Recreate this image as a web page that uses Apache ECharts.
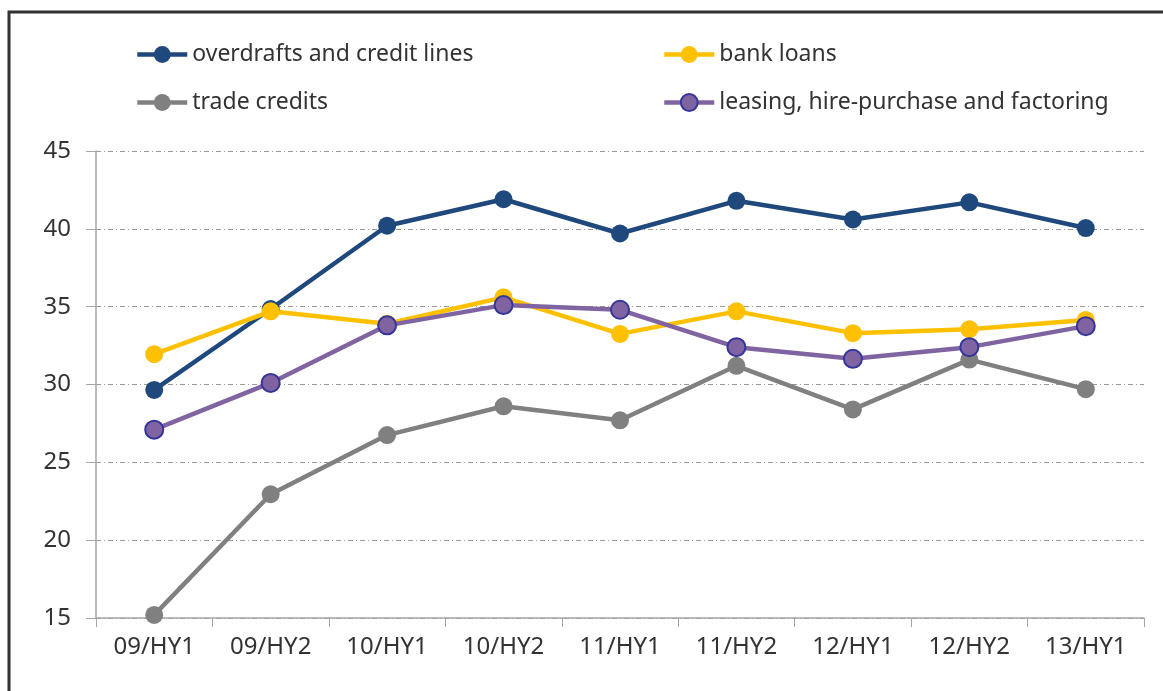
<!DOCTYPE html>
<html>
<head>
<meta charset="utf-8">
<script src="https://cdn.jsdelivr.net/npm/echarts@6/dist/echarts.min.js"></script>
<style>
  html, body { margin: 0; padding: 0; background: #fff; }
  #chart { width: 1163px; height: 691px; }
</style>
</head>
<body>
<div id="chart"></div>
<script>
  var categories = ['09/HY1', '09/HY2', '10/HY1', '10/HY2', '11/HY1', '11/HY2', '12/HY1', '12/HY2', '13/HY1'];
  var overdrafts = [29.65, 34.85, 40.2, 41.9, 39.7, 41.8, 40.6, 41.7, 40.05];
  var bankLoans = [31.95, 34.7, 33.9, 35.6, 33.25, 34.7, 33.3, 33.55, 34.15];
  var tradeCredits = [15.2, 22.95, 26.75, 28.6, 27.7, 31.2, 28.4, 31.6, 29.7];
  var leasing = [27.1, 30.1, 33.8, 35.1, 34.8, 32.4, 31.65, 32.4, 33.75];
  var yTicks = { min: 15, max: 45, interval: 5 };

  var font = 'Noto Sans';
  var textColor = '#333';

  function line(name, data, color, border) {
    return {
      name: name,
      type: 'line',
      data: data,
      symbol: 'circle',
      symbolSize: 18,
      lineStyle: { color: color, width: 4.5 },
      itemStyle: { color: color, borderColor: border || color, borderWidth: border ? 2 : 0 },
      emphasis: { disabled: true }
    };
  }

  function legend(name, left, top) {
    return {
      data: [name],
      left: left,
      top: top,
      padding: 0,
      itemWidth: 50,
      itemHeight: 21,
      lineStyle: { width: 4.5 },
      textStyle: { fontFamily: font, fontSize: 23, color: textColor },
      selectedMode: false
    };
  }

  var chart = echarts.init(document.getElementById('chart'));
  chart.setOption({
    animation: false,
    graphic: [{
      type: 'rect',
      shape: { x: 9, y: 12, width: 1200, height: 720 },
      style: { fill: 'none', stroke: '#333', lineWidth: 3 }
    }],
    legend: [
      legend('overdrafts and credit lines', 135, 43),
      legend('bank loans', 662, 43),
      legend('trade credits', 135, 91),
      legend('leasing, hire-purchase and factoring', 662, 91)
    ],
    grid: { left: 96, right: 19, top: 151, bottom: 73, containLabel: false },
    xAxis: {
      type: 'category',
      data: categories,
      boundaryGap: true,
      axisLine: { lineStyle: { color: '#a6a6a6', width: 1.5 } },
      axisTick: { show: true, length: 9, lineStyle: { color: '#a6a6a6' } },
      axisLabel: { fontFamily: font, fontSize: 24, color: textColor, margin: 17 }
    },
    yAxis: {
      type: 'value',
      min: yTicks.min,
      max: yTicks.max,
      interval: yTicks.interval,
      axisLine: { show: true, lineStyle: { color: '#a6a6a6', width: 1.5 } },
      axisTick: { show: true, length: 10, lineStyle: { color: '#a6a6a6' } },
      axisLabel: { fontFamily: font, fontSize: 24, color: textColor, margin: 25 },
      splitLine: { lineStyle: { color: '#9a9a9a', type: [5, 3, 1, 3], width: 1 } }
    },
    series: [
      line('overdrafts and credit lines', overdrafts, '#1f497d'),
      line('bank loans', bankLoans, '#ffc000'),
      line('trade credits', tradeCredits, '#808080'),
      line('leasing, hire-purchase and factoring', leasing, '#8064a2', '#35359a')
    ]
  });
</script>
</body>
</html>
